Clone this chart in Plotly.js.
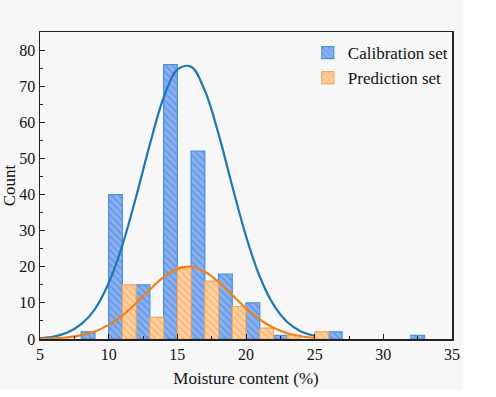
<!DOCTYPE html>
<html>
<head>
<meta charset="utf-8">
<script src="https://cdn.plot.ly/plotly-3.0.1.min.js"></script>
<style>html,body{margin:0;padding:0;background:#fff;}#chart{width:496px;height:397px;}</style>
</head>
<body>
<div id="chart"></div>
<script>
// Histogram bins (centres of 2-unit bins), counts per series
const binCentres = [9, 11, 13, 15, 17, 19, 21, 23, 25, 27, 29, 31, 33];
const calibrationCounts = [2, 40, 15, 76, 52, 18, 10, 1, null, 2, null, null, 1];
const predictionCounts = [null, 15, 6, 20, 16, 9, 3, 1, 2, null, null, null, null];

// Fitted normal curves
const curveX = [5, 6, 7, 8, 9, 10, 11, 12, 13, 14, 15, 16, 17, 18, 19, 20, 21, 22, 23, 24, 25];
const calibrationFit = [0.25, 0.7, 1.8, 4.1, 8.3, 15.5, 26.0, 39.4, 53.9, 66.8, 74.6, 75.4, 68.8, 56.8, 42.3, 28.5, 17.3, 9.5, 4.7, 2.1, 0.9];
const predictionFit = [0.07, 0.19, 0.46, 1.04, 2.1, 3.9, 6.5, 9.9, 13.7, 17.1, 19.4, 20.0, 18.6, 15.8, 12.2, 8.5, 5.4, 3.1, 1.6, 0.76, 0.33];

const seriesNames = ['Calibration set', 'Prediction set'];
const xTitle = 'Moisture content (%)';
const yTitle = 'Count';

const font = 'Liberation Serif, Times New Roman, serif';

const traces = [
  {
    type: 'bar', x: binCentres, y: calibrationCounts, name: seriesNames[0],
    marker: {
      color: '#86b0f2',
      line: {color: '#4a8fe0', width: 1.2},
      pattern: {shape: '\\', bgcolor: '#86b0f2', fgcolor: '#5f8fda', size: 5, solidity: 0.22, fillmode: 'replace'}
    }
  },
  {
    type: 'bar', x: binCentres, y: predictionCounts, name: seriesNames[1],
    marker: {
      color: '#ffd09e',
      line: {color: '#f6a658', width: 1.2},
      pattern: {shape: '\\', bgcolor: '#ffd09e', fgcolor: '#f5b071', size: 5, solidity: 0.22, fillmode: 'replace'}
    }
  },
  {
    type: 'scatter', mode: 'lines', x: curveX, y: calibrationFit, showlegend: false,
    line: {color: '#1f78b4', width: 2.2, shape: 'spline'}, hoverinfo: 'skip'
  },
  {
    type: 'scatter', mode: 'lines', x: curveX, y: predictionFit, showlegend: false,
    line: {color: '#f27f1c', width: 2.2, shape: 'spline'}, hoverinfo: 'skip'
  }
];

const axisCommon = {
  showline: true, linecolor: '#222', linewidth: 1.5, mirror: true,
  ticks: 'inside', ticklen: 5, tickwidth: 1, tickcolor: '#222',
  showgrid: false, zeroline: false,
  tickfont: {family: font, size: 16, color: '#111'}
};

const layout = {
  width: 496, height: 397,
  margin: {l: 40, r: 44, t: 32, b: 58},
  paper_bgcolor: '#ffffff',
  plot_bgcolor: 'rgba(0,0,0,0)',
  barmode: 'group', bargap: 0, bargroupgap: 0,
  font: {family: font, color: '#111'},
  xaxis: Object.assign({}, axisCommon, {
    range: [5, 35], dtick: 5, tick0: 5,
    minor: {dtick: 2.5, ticks: 'inside', ticklen: 3, tickcolor: '#222'},
    title: {text: xTitle, font: {family: font, size: 17, color: '#111'}, standoff: 10}
  }),
  yaxis: Object.assign({}, axisCommon, {
    range: [0, 85], dtick: 10, tick0: 0,
    minor: {dtick: 5, ticks: 'inside', ticklen: 3, tickcolor: '#222'},
    title: {text: yTitle, font: {family: font, size: 17, color: '#111'}, standoff: 2}
  }),
  legend: {
    x: 0.65, y: 0.99, xanchor: 'left', yanchor: 'top',
    bgcolor: 'rgba(0,0,0,0)', borderwidth: 0,
    font: {family: font, size: 17, color: '#111'},
    itemwidth: 30, tracegroupgap: 0
  },
  shapes: [{
    type: 'rect', xref: 'paper', yref: 'paper', layer: 'below',
    x0: -0.12, x1: 1.027, y0: -0.166, y1: 1.12,
    fillcolor: '#f7f7f7', line: {width: 0}
  }],
  showlegend: true
};

Plotly.newPlot('chart', traces, layout, {displayModeBar: false, staticPlot: true});
</script>
</body>
</html>
